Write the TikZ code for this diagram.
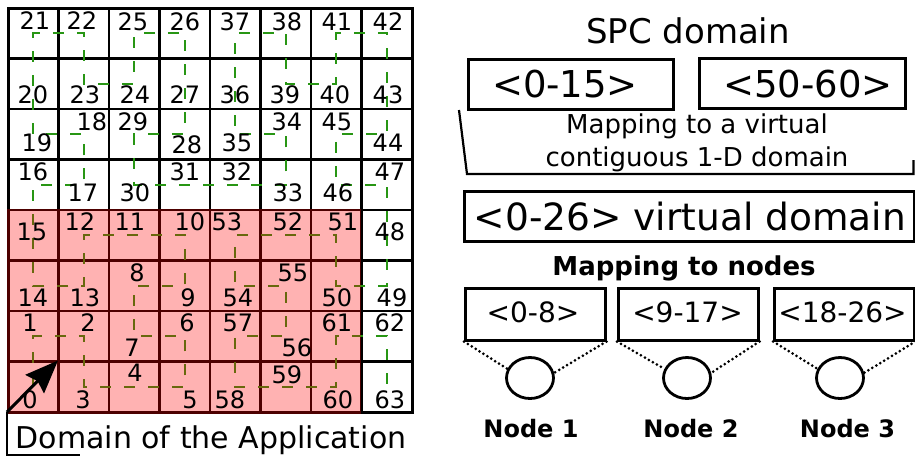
\documentclass[tikz,border=0pt]{standalone}
\usepackage{fontspec}
\setmainfont{DejaVu Sans}
\usetikzlibrary{arrows.meta,shapes.geometric}
\definecolor{hilgreen}{RGB}{40,150,20}
\begin{document}
\begin{tikzpicture}[x=1pt,y=-1pt,
  gridline/.style={line width=2.4pt,line cap=rect,black},
  hil/.style={hilgreen,line width=2.4pt,dash pattern=on 11pt off 13pt},
  num/.style={inner sep=0pt,text height=17.5pt,text depth=0pt,anchor=center,font=\fontsize{24}{28}\selectfont},
  txt/.style={inner sep=0pt,anchor=base},
  boxshape/.style={draw,line width=2.5pt,inner sep=0pt,anchor=north west},
  dotline/.style={line width=3pt,dash pattern=on 0pt off 4.6pt,line cap=round},
  nodecirc/.style={draw,line width=2.8pt,ellipse,minimum width=47pt,minimum height=41pt,inner sep=0pt}]
\useasboundingbox (0,0) rectangle (915,456);
% grid
\foreach \i in {0,...,8}{
  \draw[gridline] ({8+50.5*\i},8) -- ({8+50.5*\i},412);
  \draw[gridline] (8,{8+50.5*\i}) -- (412,{8+50.5*\i});
}
\draw[line width=3pt] (8,8) rectangle (412,412);
\foreach \c in {0,...,7}{\foreach \r in {0,...,7}{
  \coordinate (c\c-\r) at ({8+50.5*(\c+0.5)},{8+50.5*(\r+0.5)});
}}
% Hilbert curve
\draw[hil] (c0-7) -- (c0-6) -- (c1-6) -- (c1-7) -- (c2-7) -- (c3-7) -- (c3-6) -- (c2-6)
 -- (c2-5) -- (c3-5) -- (c3-4) -- (c2-4) -- (c1-4) -- (c1-5) -- (c0-5) -- (c0-4)
 -- (c0-3) -- (c1-3) -- (c1-2) -- (c0-2) -- (c0-1) -- (c0-0) -- (c1-0) -- (c1-1)
 -- (c2-1) -- (c2-0) -- (c3-0) -- (c3-1) -- (c3-2) -- (c2-2) -- (c2-3) -- (c3-3)
 -- (c4-3) -- (c5-3) -- (c5-2) -- (c4-2) -- (c4-1) -- (c4-0) -- (c5-0) -- (c5-1)
 -- (c6-1) -- (c6-0) -- (c7-0) -- (c7-1) -- (c7-2) -- (c6-2) -- (c6-3) -- (c7-3)
 -- (c7-4) -- (c7-5) -- (c6-5) -- (c6-4) -- (c5-4) -- (c4-4) -- (c4-5) -- (c5-5)
 -- (c5-6) -- (c4-6) -- (c4-7) -- (c5-7) -- (c6-7) -- (c6-6) -- (c7-6) -- (c7-7);
% red overlay
\fill[red,opacity=0.3] (6.5,209) rectangle (360.5,413.5);
% numbers
\foreach \n/\x/\y in {21/35/21,22/82/21,25/133/22,26/185/22,37/235/22,38/287/22,41/337/22,42/388/22,
  20/33/95,23/85/95,24/135/95,27/185/95,36/235/95,39/285/95,40/335/95,43/388/95,
  18/92/122,29/133/122,34/287/122,45/337/122,
  19/37/143,28/187/145,35/237/143,44/388/143,
  16/33/172,31/185/172,32/237/172,47/390/172,
  17/83/193,30/135/193,33/288/193,46/338/193,
  15/32/232,48/390/232,12/80/222,11/130/222,10/190/222,53/227/222,52/288/222,51/343/222,
  8/137/273,55/293/273,
  14/33/298,13/85/298,9/188/298,54/238/298,50/337/298,49/392/298,
  1/30/323,2/88/323,6/187/323,57/238/323,61/337/323,62/390/323,
  7/132/348,56/297/348,
  4/135/373,59/287/375,
  0/30/400,3/83/400,5/190/400,58/230/400,60/338/400,63/390/400}{
  \node[num] (n\n) at (\x,\y) {\n};
}
% label of the domain
\coordinate (lblcorner) at (7,412);
\coordinate (lblend) at (80,455);
\draw[line width=2.4pt] (lblcorner) -- (7,455) -- (lblend);
\draw[line width=3pt,-{Stealth[length=33pt,width=26pt,inset=4pt]}] (lblcorner) -- (58,360.5);
\node[txt,font=\fontsize{30}{36}\selectfont] (domlabel) at (211,448) {Domain of the Application};
% right part
\node[txt,font=\fontsize{34}{40}\selectfont] (spc) at (688,43) {SPC domain};
\node[boxshape,minimum width=205pt,minimum height=50pt] (b015) at (467,58) {};
\node[txt,font=\fontsize{37}{44}\selectfont] (t015) at (565,97) {<0-15>};
\node[boxshape,minimum width=206pt,minimum height=50pt] (b5060) at (698,57) {};
\node[txt,font=\fontsize{37}{44}\selectfont] (t5060) at (808,97) {<50-60>};
\coordinate (tr1) at (459,110);
\coordinate (tr4) at (913.5,160);
\draw[line width=2.2pt] (tr1) -- (467,174) -- (913.5,174) -- (tr4);
\node[txt,font=\fontsize{26}{30}\selectfont] (map1) at (697,133) {Mapping to a virtual};
\node[txt,font=\fontsize{26}{30}\selectfont] (map2) at (697,166) {contiguous 1-D domain};
\node[boxshape,minimum width=450pt,minimum height=50pt] (bvirt) at (463,190) {};
\node[txt,font=\fontsize{37.5}{44}\selectfont] (tvirt) at (690,230) {<0-26> virtual domain};
\node[txt,font=\bfseries\fontsize{26}{30}\selectfont] (mapn) at (684,275) {Mapping to nodes};
\foreach \i/\bx/\tx/\t/\cx/\nx in {1/464/533/<0-8>/530/531, 2/617/687.5/<9-17>/687/691, 3/773/842.5/<18-26>/840/847.5}{
  \node[boxshape,minimum width=140pt,minimum height=52pt] (nb\i) at (\bx,287) {};
  \node[txt,font=\fontsize{28}{33}\selectfont] (nt\i) at (\tx,322) {\t};
  \node[nodecirc] (nc\i) at (\cx,378) {};
  \draw[dotline] (nb\i.south west) -- (nc\i.158);
  \draw[dotline] (nb\i.south east) -- (nc\i.12);
  \node[txt,font=\bfseries\fontsize{24}{28}\selectfont] (nl\i) at (\nx,437) {Node \i};
}
\end{tikzpicture}
\end{document}
